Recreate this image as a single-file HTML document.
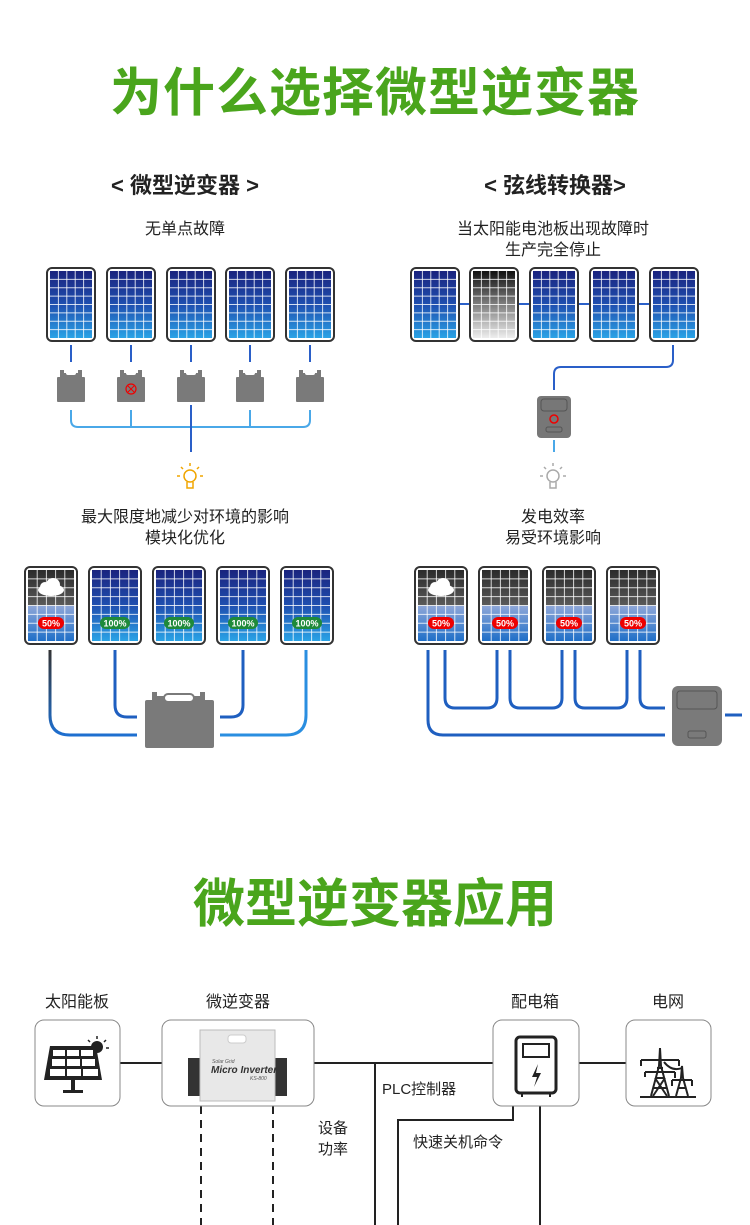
<!DOCTYPE html>
<html><head><meta charset="utf-8"><style>
html,body{margin:0;padding:0;background:#fff;}
body{width:750px;height:1225px;overflow:hidden;}
svg{display:block;}
text{font-family:"Liberation Sans","Noto Sans CJK SC",sans-serif;}
</style></head><body>
<svg id="s" width="750" height="1225" viewBox="0 0 750 1225" xmlns="http://www.w3.org/2000/svg">
<defs>
<linearGradient id="blue" x1="0" y1="0" x2="0" y2="1"><stop offset="0" stop-color="#1a237e"/><stop offset="0.5" stop-color="#1f4fb0"/><stop offset="1" stop-color="#2aa3e6"/></linearGradient>
<linearGradient id="gray" x1="0" y1="0" x2="0" y2="1"><stop offset="0" stop-color="#111"/><stop offset="1" stop-color="#eee"/></linearGradient>
<linearGradient id="dark" x1="0" y1="0" x2="0" y2="1"><stop offset="0" stop-color="#2a2a2a"/><stop offset="1" stop-color="#5a5a5a"/></linearGradient>
<linearGradient id="lblue" x1="0" y1="0" x2="0" y2="1"><stop offset="0" stop-color="#8fa7d8"/><stop offset="1" stop-color="#1f6fc8"/></linearGradient>
<linearGradient id="cab" x1="0" y1="0" x2="0" y2="1"><stop offset="0" stop-color="#333"/><stop offset="1" stop-color="#1e6fd0"/></linearGradient>
</defs>
<text x="375" y="111" text-anchor="middle" font-size="52" font-weight="bold" fill="#4aa51c" letter-spacing="1">为什么选择微型逆变器</text>
<text x="185" y="193" text-anchor="middle" font-size="22" font-weight="bold" fill="#222">&lt; 微型逆变器 &gt;</text>
<text x="555" y="193" text-anchor="middle" font-size="22" font-weight="bold" fill="#222">&lt; 弦线转换器&gt;</text>
<text x="185" y="234" text-anchor="middle" font-size="16" fill="#222">无单点故障</text>
<text x="553" y="234" text-anchor="middle" font-size="16" fill="#222">当太阳能电池板出现故障时</text>
<text x="553" y="255" text-anchor="middle" font-size="16" fill="#222">生产完全停止</text>
<text x="185" y="522" text-anchor="middle" font-size="16" fill="#222">最大限度地减少对环境的影响</text>
<text x="185" y="543" text-anchor="middle" font-size="16" fill="#222">模块化优化</text>
<text x="553" y="522" text-anchor="middle" font-size="16" fill="#222">发电效率</text>
<text x="553" y="543" text-anchor="middle" font-size="16" fill="#222">易受环境影响</text>

<g stroke="#2a5fc8" stroke-width="2" fill="none">
<path d="M71 345V362M131 345V362M191 345V362M250 345V362M310 345V362"/>
<path d="M71 410V420Q71 427 78 427H303Q310 427 310 420V410M131 410V427M250 410V427" stroke="#4aa8e8"/>
<path d="M191 405V452"/>
</g>
<g stroke="#2a5fc8" stroke-width="2" fill="none">
<path d="M458 304H470M518 304H530M578 304H590M638 304H650"/>
<path d="M673 345V360Q673 367 666 367H561Q554 367 554 374V390"/>
<path d="M554 440V452" stroke="#4aa8e8"/>
</g>
<rect x="537" y="396" width="34" height="42" rx="4" fill="#777"/>
<rect x="541" y="399" width="26" height="12" rx="3" fill="none" stroke="#555"/>
<circle cx="554" cy="419" r="4" fill="none" stroke="#e00" stroke-width="1.5"/>
<rect x="546" y="427" width="16" height="5" rx="2" fill="none" stroke="#555"/>

<g fill="none" stroke="#f0a500" stroke-width="1.5">
<circle cx="190" cy="476" r="6"/><path d="M187 482V488H193V482M180 476H177M203 476H200M183 469L181 467M197 469L199 467M190 466V463"/>
</g>
<g fill="none" stroke="#aaa" stroke-width="1.5">
<circle cx="553" cy="476" r="6"/><path d="M550 482V488H556V482M543 476H540M566 476H563M546 469L544 467M560 469L562 467M553 466V463"/>
</g>

<g fill="none" stroke-width="3">
<path d="M50 650V715Q50 735 70 735H137" stroke="url(#cab)"/>
<path d="M115 650V705Q115 717 127 717H137" stroke="#1f5fc0"/>
<path d="M243 650V705Q243 717 231 717H220" stroke="#1f5fc0"/>
<path d="M306 650V715Q306 735 286 735H220" stroke="#2a8ee0"/>
</g>
<rect x="145" y="700" width="69" height="48" rx="2" fill="#7a7a7a"/>
<path d="M152 700V692H157V696H200V692H205V700Z" fill="#7a7a7a"/>
<rect x="164" y="694" width="30" height="8" rx="4" fill="#fff" stroke="#7a7a7a" stroke-width="2"/>

<g fill="none" stroke-width="3" stroke="#1f5fc0">
<path d="M428 650V720Q428 735 443 735H665"/>
<path d="M445 650V698Q445 708 455 708H487Q497 708 497 698V650"/>
<path d="M510 650V698Q510 708 520 708H552Q562 708 562 698V650"/>
<path d="M575 650V698Q575 708 585 708H617Q627 708 627 698V650"/>
<path d="M640 650V698Q640 708 650 708H665"/>
<path d="M725 715H742"/>
</g>
<rect x="672" y="686" width="50" height="60" rx="6" fill="#7a7a7a"/>
<rect x="677" y="691" width="40" height="18" rx="3" fill="none" stroke="#555"/>
<rect x="688" y="731" width="18" height="7" rx="2" fill="none" stroke="#555"/>

<text x="375" y="922" text-anchor="middle" font-size="52" font-weight="bold" fill="#4aa51c">微型逆变器应用</text>

<g font-size="16" fill="#222" text-anchor="middle">
<text x="77" y="1007">太阳能板</text><text x="238" y="1007">微逆变器</text><text x="535" y="1007">配电箱</text><text x="668" y="1007">电网</text>
</g>
<g fill="none" stroke="#222" stroke-width="2">
<path d="M120 1063H162M314 1063H493M579 1063H626"/>
<path d="M375 1063V1225M513 1106V1120H398V1225M540 1106V1225"/>
<path d="M201 1106V1225M273 1106V1225" stroke-dasharray="8,6"/>
</g>
<g fill="#fff" stroke="#888" stroke-width="1">
<rect x="35" y="1020" width="85" height="86" rx="9"/>
<rect x="162" y="1020" width="152" height="86" rx="9"/>
<rect x="493" y="1020" width="86" height="86" rx="9"/>
<rect x="626" y="1020" width="85" height="86" rx="9"/>
</g>
<text x="382" y="1094" font-size="15" fill="#222">PLC控制器</text>
<text x="318" y="1133" font-size="15" fill="#222">设备</text>
<text x="318" y="1154" font-size="15" fill="#222">功率</text>
<text x="413" y="1147" font-size="15" fill="#222">快速关机命令</text>
<g fill="#222">
<path d="M50 1046H96L102 1080H44Z"/>
<rect x="71" y="1080" width="4" height="10"/><rect x="63" y="1090" width="20" height="3"/>
<circle cx="97" cy="1047" r="6"/>
</g>
<g fill="#fff"><rect x="53" y="1050" width="12" height="6"/><rect x="67" y="1050" width="12" height="6"/><rect x="81" y="1050" width="12" height="6"/>
<rect x="52" y="1059" width="13" height="7"/><rect x="67" y="1059" width="13" height="7"/><rect x="82" y="1059" width="13" height="7"/>
<rect x="50" y="1069" width="15" height="7"/><rect x="67" y="1069" width="14" height="7"/><rect x="83" y="1069" width="15" height="7"/></g>
<path d="M97 1036V1039M106 1040L104 1042M109 1048H106M88 1040L90 1042" stroke="#222" stroke-width="1.5"/>
<rect x="188" y="1058" width="16" height="38" fill="#333"/><rect x="271" y="1058" width="16" height="38" fill="#333"/>
<rect x="200" y="1030" width="75" height="71" fill="#e8e8e8" stroke="#bbb"/>
<rect x="228" y="1035" width="18" height="8" rx="3" fill="#fff" stroke="#ccc"/>
<text x="212" y="1063" font-size="5" fill="#555" font-style="italic">Solar Grid</text>
<text x="211" y="1073" font-size="10" fill="#333" font-style="italic" font-weight="bold">Micro Inverter</text>
<text x="250" y="1080" font-size="5" fill="#555" font-style="italic">KS-800</text>
<rect x="516" y="1037" width="40" height="56" rx="4" fill="none" stroke="#222" stroke-width="3"/>
<rect x="523" y="1044" width="26" height="13" fill="none" stroke="#222" stroke-width="2"/>
<path d="M538 1064L532 1077H537L534 1087L541 1073H536Z" fill="#222"/>
<path d="M522 1093V1097M550 1093V1097" stroke="#222" stroke-width="2"/>
<g fill="none" stroke="#222" stroke-width="2">
<path d="M651 1096L659 1066L660 1048L661 1066L669 1096M653 1088L667 1088M655 1078H665M657 1068H663M655 1078L667 1096M665 1078L653 1096"/>
<path d="M641 1060H679M645 1072H675M641 1060V1066M679 1060V1066M645 1072V1077M675 1072V1078"/>
<path d="M676 1096L681 1078L682 1066L683 1078L688 1096M672 1080H692M672 1080V1086M692 1080V1086M678 1088H686"/>
<path d="M664 1062Q672 1072 682 1068"/>
<path d="M640 1097H696"/>
</g>
<g id="panels"></g>
</svg>
<script>
var g=document.getElementById('panels'),ns='http://www.w3.org/2000/svg';
function el(t,a){var e=document.createElementNS(ns,t);for(var k in a)e.setAttribute(k,a[k]);g.appendChild(e);return e;}
function panel(x,y,w,h,type,badge,cloud){
 el('rect',{x:x,y:y,width:w,height:h,rx:5,fill:'#fff',stroke:'#333','stroke-width':2});
 var ix=x+3,iy=y+3,iw=w-6,ih=h-6;
 if(type=='half'){
  el('rect',{x:ix,y:iy,width:iw,height:ih/2,fill:'url(#dark)'});
  el('rect',{x:ix,y:iy+ih/2,width:iw,height:ih/2,fill:'url(#lblue)'});
 } else el('rect',{x:ix,y:iy,width:iw,height:ih,fill:type=='gray'?'url(#gray)':'url(#blue)'});
 for(var i=1;i<5;i++)el('line',{x1:ix+iw*i/5,y1:iy,x2:ix+iw*i/5,y2:iy+ih,stroke:'#fff','stroke-opacity':.8,'stroke-width':1});
 for(var j=1;j<8;j++)el('line',{x1:ix,y1:iy+ih*j/8,x2:ix+iw,y2:iy+ih*j/8,stroke:'#fff','stroke-opacity':.8,'stroke-width':1});
 if(cloud){var cx=x+w/2,cy=y+20;el('ellipse',{cx:cx,cy:cy+3,rx:13,ry:6,fill:'#fff'});el('circle',{cx:cx+2,cy:cy-2,r:7,fill:'#fff'});el('circle',{cx:cx-6,cy:cy,r:5,fill:'#fff'});}
 if(badge){var red=badge=='50%';var bw=red?26:30;el('rect',{x:x+w/2-bw/2,y:y+50,width:bw,height:12,rx:6,fill:red?'#e00':'#1e8a3a'});
  var t=el('text',{x:x+w/2,y:y+59.5,'text-anchor':'middle','font-size':9,'font-weight':'bold',fill:'#fff'});t.textContent=badge;}
}
[47,107,167,226,286].forEach(function(x){panel(x,268,48,73,'blue');});
[411,470,530,590,650].forEach(function(x,i){panel(x,268,48,73,i==1?'gray':'blue');});
[25,89,153,217,281].forEach(function(x,i){panel(x,567,52,77,i==0?'half':'blue',i==0?'50%':'100%',i==0);});
[415,479,543,607].forEach(function(x,i){panel(x,567,52,77,'half','50%',i==0);});
[71,131,191,250,310].forEach(function(cx,i){
 el('rect',{x:cx-14,y:377,width:28,height:25,rx:1,fill:'#7a7a7a'});
 el('path',{d:'M'+(cx-11)+' 377V370H'+(cx-7)+'V373H'+(cx+7)+'V370H'+(cx+11)+'V377Z',fill:'#7a7a7a'});
 el('rect',{x:cx-5,y:371,width:10,height:4,rx:2,fill:'#fff'});
 if(i==1){el('circle',{cx:cx,cy:389,r:5,fill:'none',stroke:'#e00','stroke-width':1.2});el('path',{d:'M'+(cx-3)+' 386L'+(cx+3)+' 392M'+(cx+3)+' 386L'+(cx-3)+' 392',stroke:'#e00','stroke-width':1});}
});
</script>
</body></html>
